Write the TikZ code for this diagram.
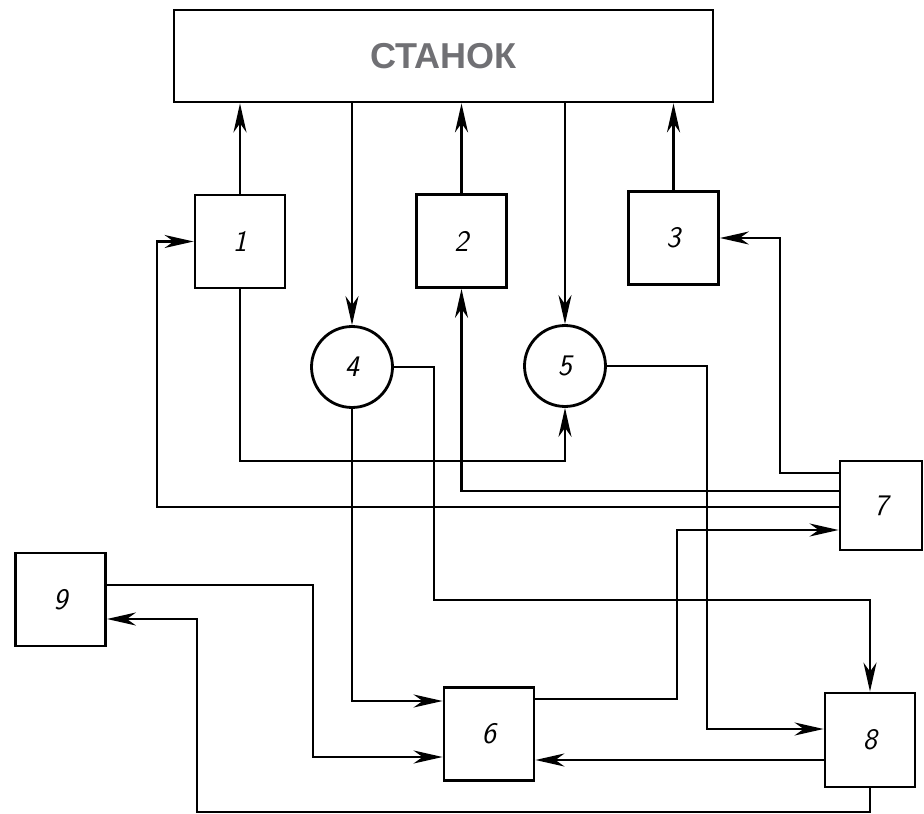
\documentclass[tikz,border=0pt]{standalone}
\usepackage{fontspec}
\newfontfamily\stanokfont{Liberation Sans}
\usepackage{tikz}
\usetikzlibrary{arrows.meta, positioning}
\definecolor{stanokgray}{RGB}{112,112,116}

\begin{document}
\begin{tikzpicture}[
		x=0.02cm, y=-0.02cm,
		line width=1.4pt,
		>={Stealth[length=5.8mm, width=2.6mm, inset=1.8mm]},
		blok/.style={
				draw,
				line width=1.6pt,
				minimum width=1.8cm,
				minimum height=1.86cm, % 93 px
				inner sep=0pt,
				font=\sffamily\itshape\fontsize{17}{19}\selectfont
			},
		krug/.style={
				blok,
				circle,
				minimum size=1.62cm
			}
	]
	\useasboundingbox (0,0) rectangle (924,814);

	\node[blok, minimum width=10.78cm, minimum height=1.84cm,
		font=\stanokfont\bfseries\fontsize{20.5}{22}\selectfont,
		text=stanokgray] (stanok) at (443.5,56) {СТАНОК};

	\node[blok] (b1) at (240,241.5) {1};
	\node[blok] (b2) at (461.5,241) {2};
	\node[blok] (b3) at (673.5,238) {3};
	\node[krug] (c4) at (352,367) {4};
	\node[krug] (c5) at (565,366) {5};
	\node[blok] (b6) at (489,734) {6};
	\node[blok, minimum width=1.64cm, minimum height=1.78cm] (b7) at (881,505.5) {7};
	\node[blok, minimum height=1.88cm] (b8) at (870,740) {8};
	\node[blok] (b9) at (60.5,599.5) {9};

	% to and from the machine
	\foreach \b in {b1, b2, b3}
		\draw[->] (\b.north) -- (\b.north |- stanok.south);
	\foreach \c in {c4, c5}
		\draw[->] (stanok.south -| \c.north) -- (\c.north);

	\draw[->] (b1.south) -- (b1.south |- 0,461) -| (c5.south);
	\draw[->] (c4.east) -| (434,600) -| (b8.north);
	\draw[->] (c4.south) |- (b6.west |- 0,701);
	\draw[->] (c5.east) -| (707,729) -- (b8.west |- 0,729);

	% lines out of 7
	\draw[->] (b7.west |- 0,473) -- (780,473) |- (b3.east);
	\draw[->] (b7.west |- 0,491) -| (b2.south);
	\draw[->] (b7.west |- 0,507) -- (157,507) |- (b1.west);
	\draw[->] (b6.east |- 0,699) -| (677,530) -- (b7.west |- 0,530);

	\draw[->] (b9.east |- 0,585) -| (313,757) -- (b6.west |- 0,757);
	\draw[->] (b8.west |- 0,760) -- (b6.east |- 0,760);
	\draw[->] (b8.south) |- (197,812) |- (b9.east |- 0,619);
\end{tikzpicture}
\end{document}
